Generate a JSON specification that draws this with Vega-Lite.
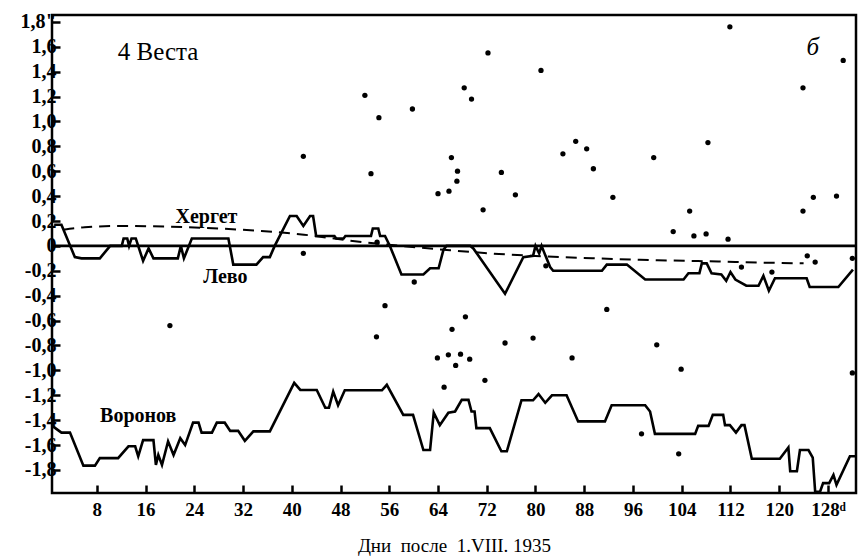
{
  "$schema": "https://vega.github.io/schema/vega-lite/v6.json",
  "width": 804,
  "height": 478,
  "autosize": {"type": "none"},
  "padding": {"left": 52, "top": 15, "right": 2, "bottom": 63},
  "background": "white",
  "config": {
    "view": {"stroke": "black", "strokeWidth": 2.5},
    "axis": {
      "domain": false,
      "grid": false,
      "tickColor": "black",
      "tickWidth": 2.5,
      "tickSize": -8,
      "labelColor": "black",
      "labelFont": "Liberation Serif",
      "labelFontWeight": "bold",
      "labelOverlap": false,
      "titleFont": "Liberation Serif",
      "titleColor": "black"
    }
  },
  "datasets": {
    "lines": [
      {"series": "Лево", "d": 1.0, "v": 0.17}, {"series": "Лево", "d": 2.2, "v": 0.17}, {"series": "Лево", "d": 4.4, "v": -0.09}, {"series": "Лево", "d": 5.5, "v": -0.1}, {"series": "Лево", "d": 8.5, "v": -0.1}, {"series": "Лево", "d": 10.2, "v": 0.0}, {"series": "Лево", "d": 12.1, "v": 0.0}, {"series": "Лево", "d": 12.4, "v": 0.06}, {"series": "Лево", "d": 13.0, "v": 0.06}, {"series": "Лево", "d": 13.3, "v": 0.0}, {"series": "Лево", "d": 13.7, "v": 0.06}, {"series": "Лево", "d": 14.4, "v": 0.06}, {"series": "Лево", "d": 15.6, "v": -0.12}, {"series": "Лево", "d": 16.5, "v": -0.02}, {"series": "Лево", "d": 17.3, "v": -0.1}, {"series": "Лево", "d": 21.3, "v": -0.1}, {"series": "Лево", "d": 21.8, "v": 0.0}, {"series": "Лево", "d": 22.3, "v": -0.1}, {"series": "Лево", "d": 23.6, "v": 0.06}, {"series": "Лево", "d": 29.6, "v": 0.06}, {"series": "Лево", "d": 30.4, "v": -0.15}, {"series": "Лево", "d": 34.2, "v": -0.15}, {"series": "Лево", "d": 35.3, "v": -0.09}, {"series": "Лево", "d": 36.4, "v": -0.09}, {"series": "Лево", "d": 37.2, "v": 0.0}, {"series": "Лево", "d": 39.7, "v": 0.24}, {"series": "Лево", "d": 40.8, "v": 0.24}, {"series": "Лево", "d": 41.9, "v": 0.16}, {"series": "Лево", "d": 43.0, "v": 0.24}, {"series": "Лево", "d": 43.5, "v": 0.24}, {"series": "Лево", "d": 44.0, "v": 0.08}, {"series": "Лево", "d": 47.0, "v": 0.08}, {"series": "Лево", "d": 47.3, "v": 0.06}, {"series": "Лево", "d": 48.5, "v": 0.06}, {"series": "Лево", "d": 48.8, "v": 0.08}, {"series": "Лево", "d": 53.0, "v": 0.08}, {"series": "Лево", "d": 53.3, "v": 0.14}, {"series": "Лево", "d": 54.2, "v": 0.14}, {"series": "Лево", "d": 54.5, "v": 0.08}, {"series": "Лево", "d": 55.3, "v": 0.08}, {"series": "Лево", "d": 56.1, "v": 0.0}, {"series": "Лево", "d": 58.0, "v": -0.23}, {"series": "Лево", "d": 61.6, "v": -0.23}, {"series": "Лево", "d": 62.7, "v": -0.18}, {"series": "Лево", "d": 64.1, "v": -0.18}, {"series": "Лево", "d": 64.9, "v": -0.03}, {"series": "Лево", "d": 65.4, "v": 0.0}, {"series": "Лево", "d": 69.3, "v": 0.0}, {"series": "Лево", "d": 69.8, "v": -0.02}, {"series": "Лево", "d": 75.0, "v": -0.385}, {"series": "Лево", "d": 78.0, "v": -0.09}, {"series": "Лево", "d": 79.6, "v": -0.08}, {"series": "Лево", "d": 80.0, "v": 0.0}, {"series": "Лево", "d": 80.6, "v": -0.06}, {"series": "Лево", "d": 81.0, "v": 0.0}, {"series": "Лево", "d": 81.4, "v": -0.05}, {"series": "Лево", "d": 82.4, "v": -0.17}, {"series": "Лево", "d": 82.9, "v": -0.2}, {"series": "Лево", "d": 90.9, "v": -0.2}, {"series": "Лево", "d": 91.7, "v": -0.15}, {"series": "Лево", "d": 95.0, "v": -0.15}, {"series": "Лево", "d": 98.0, "v": -0.27}, {"series": "Лево", "d": 104.3, "v": -0.27}, {"series": "Лево", "d": 105.1, "v": -0.22}, {"series": "Лево", "d": 106.9, "v": -0.22}, {"series": "Лево", "d": 107.3, "v": -0.14}, {"series": "Лево", "d": 108.1, "v": -0.14}, {"series": "Лево", "d": 108.9, "v": -0.22}, {"series": "Лево", "d": 110.5, "v": -0.23}, {"series": "Лево", "d": 111.3, "v": -0.28}, {"series": "Лево", "d": 112.0, "v": -0.21}, {"series": "Лево", "d": 112.8, "v": -0.27}, {"series": "Лево", "d": 114.6, "v": -0.32}, {"series": "Лево", "d": 116.6, "v": -0.32}, {"series": "Лево", "d": 117.4, "v": -0.24}, {"series": "Лево", "d": 118.3, "v": -0.36}, {"series": "Лево", "d": 119.3, "v": -0.26}, {"series": "Лево", "d": 124.5, "v": -0.26}, {"series": "Лево", "d": 125.0, "v": -0.33}, {"series": "Лево", "d": 129.7, "v": -0.33}, {"series": "Лево", "d": 132.1, "v": -0.19},
      {"series": "Воронов", "d": 0.8, "v": -1.45}, {"series": "Воронов", "d": 2.2, "v": -1.5}, {"series": "Воронов", "d": 3.6, "v": -1.5}, {"series": "Воронов", "d": 5.8, "v": -1.765}, {"series": "Воронов", "d": 7.7, "v": -1.765}, {"series": "Воронов", "d": 8.5, "v": -1.705}, {"series": "Воронов", "d": 11.5, "v": -1.705}, {"series": "Воронов", "d": 13.2, "v": -1.61}, {"series": "Воронов", "d": 14.3, "v": -1.61}, {"series": "Воронов", "d": 14.8, "v": -1.69}, {"series": "Воронов", "d": 15.6, "v": -1.56}, {"series": "Воронов", "d": 17.3, "v": -1.56}, {"series": "Воронов", "d": 17.7, "v": -1.76}, {"series": "Воронов", "d": 18.1, "v": -1.68}, {"series": "Воронов", "d": 18.7, "v": -1.76}, {"series": "Воронов", "d": 19.7, "v": -1.57}, {"series": "Воронов", "d": 20.6, "v": -1.68}, {"series": "Воронов", "d": 21.7, "v": -1.545}, {"series": "Воронов", "d": 22.5, "v": -1.6}, {"series": "Воронов", "d": 23.8, "v": -1.42}, {"series": "Воронов", "d": 24.7, "v": -1.42}, {"series": "Воронов", "d": 25.2, "v": -1.5}, {"series": "Воронов", "d": 26.9, "v": -1.5}, {"series": "Воронов", "d": 27.7, "v": -1.42}, {"series": "Воронов", "d": 29.0, "v": -1.42}, {"series": "Воронов", "d": 29.9, "v": -1.486}, {"series": "Воронов", "d": 31.2, "v": -1.486}, {"series": "Воронов", "d": 32.3, "v": -1.566}, {"series": "Воронов", "d": 33.7, "v": -1.49}, {"series": "Воронов", "d": 36.4, "v": -1.49}, {"series": "Воронов", "d": 40.4, "v": -1.1}, {"series": "Воронов", "d": 41.4, "v": -1.157}, {"series": "Воронов", "d": 44.1, "v": -1.157}, {"series": "Воронов", "d": 45.5, "v": -1.3}, {"series": "Воронов", "d": 46.1, "v": -1.3}, {"series": "Воронов", "d": 46.8, "v": -1.17}, {"series": "Воронов", "d": 47.6, "v": -1.28}, {"series": "Воронов", "d": 48.7, "v": -1.16}, {"series": "Воронов", "d": 54.8, "v": -1.16}, {"series": "Воронов", "d": 55.6, "v": -1.116}, {"series": "Воронов", "d": 58.3, "v": -1.357}, {"series": "Воронов", "d": 59.9, "v": -1.357}, {"series": "Воронов", "d": 61.6, "v": -1.64}, {"series": "Воронов", "d": 62.7, "v": -1.64}, {"series": "Воронов", "d": 63.3, "v": -1.34}, {"series": "Воронов", "d": 64.3, "v": -1.44}, {"series": "Воронов", "d": 65.7, "v": -1.34}, {"series": "Воронов", "d": 66.8, "v": -1.33}, {"series": "Воронов", "d": 67.9, "v": -1.237}, {"series": "Воронов", "d": 69.0, "v": -1.237}, {"series": "Воронов", "d": 69.5, "v": -1.33}, {"series": "Воронов", "d": 70.0, "v": -1.33}, {"series": "Воронов", "d": 70.3, "v": -1.464}, {"series": "Воронов", "d": 72.5, "v": -1.464}, {"series": "Воронов", "d": 74.4, "v": -1.65}, {"series": "Воронов", "d": 75.3, "v": -1.65}, {"series": "Воронов", "d": 77.7, "v": -1.24}, {"series": "Воронов", "d": 79.6, "v": -1.24}, {"series": "Воронов", "d": 80.5, "v": -1.19}, {"series": "Воронов", "d": 81.6, "v": -1.26}, {"series": "Воронов", "d": 82.7, "v": -1.2}, {"series": "Воронов", "d": 85.1, "v": -1.2}, {"series": "Воронов", "d": 87.0, "v": -1.41}, {"series": "Воронов", "d": 91.4, "v": -1.41}, {"series": "Воронов", "d": 92.5, "v": -1.28}, {"series": "Воронов", "d": 98.0, "v": -1.28}, {"series": "Воронов", "d": 98.8, "v": -1.33}, {"series": "Воронов", "d": 99.6, "v": -1.51}, {"series": "Воронов", "d": 106.2, "v": -1.51}, {"series": "Воронов", "d": 106.7, "v": -1.446}, {"series": "Воронов", "d": 108.4, "v": -1.446}, {"series": "Воронов", "d": 109.1, "v": -1.357}, {"series": "Воронов", "d": 110.8, "v": -1.357}, {"series": "Воронов", "d": 111.1, "v": -1.44}, {"series": "Воронов", "d": 111.9, "v": -1.44}, {"series": "Воронов", "d": 112.9, "v": -1.5}, {"series": "Воронов", "d": 113.8, "v": -1.44}, {"series": "Воронов", "d": 114.3, "v": -1.44}, {"series": "Воронов", "d": 115.5, "v": -1.71}, {"series": "Воронов", "d": 120.1, "v": -1.71}, {"series": "Воронов", "d": 121.5, "v": -1.62}, {"series": "Воронов", "d": 121.8, "v": -1.81}, {"series": "Воронов", "d": 122.9, "v": -1.81}, {"series": "Воронов", "d": 123.4, "v": -1.64}, {"series": "Воронов", "d": 124.8, "v": -1.64}, {"series": "Воронов", "d": 125.5, "v": -1.7}, {"series": "Воронов", "d": 125.9, "v": -1.975}, {"series": "Воронов", "d": 126.7, "v": -1.975}, {"series": "Воронов", "d": 127.2, "v": -1.906}, {"series": "Воронов", "d": 128.2, "v": -1.906}, {"series": "Воронов", "d": 128.9, "v": -1.84}, {"series": "Воронов", "d": 129.4, "v": -1.92}, {"series": "Воронов", "d": 131.6, "v": -1.69}, {"series": "Воронов", "d": 132.6, "v": -1.69}
    ],
    "herget": [
      {"d": 2.5, "v": 0.13}, {"d": 6, "v": 0.15}, {"d": 12, "v": 0.16}, {"d": 20, "v": 0.155}, {"d": 28, "v": 0.14}, {"d": 35, "v": 0.12}, {"d": 42, "v": 0.09}, {"d": 50, "v": 0.04}, {"d": 58, "v": 0.0}, {"d": 66, "v": -0.035}, {"d": 74, "v": -0.065}, {"d": 82, "v": -0.085}, {"d": 90, "v": -0.1}, {"d": 100, "v": -0.115}, {"d": 110, "v": -0.125}, {"d": 118, "v": -0.135}, {"d": 124, "v": -0.14}
    ],
    "points": [
      {"d": 41.9, "v": 0.72}, {"d": 52.0, "v": 1.21}, {"d": 54.3, "v": 1.03}, {"d": 59.8, "v": 1.10}, {"d": 68.3, "v": 1.27}, {"d": 69.5, "v": 1.18}, {"d": 72.2, "v": 1.55}, {"d": 80.9, "v": 1.41}, {"d": 66.2, "v": 0.71},
      {"d": 111.9, "v": 1.76}, {"d": 130.5, "v": 1.49}, {"d": 123.9, "v": 1.27}, {"d": 84.5, "v": 0.74}, {"d": 86.6, "v": 0.84}, {"d": 88.4, "v": 0.78}, {"d": 99.4, "v": 0.71}, {"d": 108.3, "v": 0.83},
      {"d": 53.0, "v": 0.58}, {"d": 67.2, "v": 0.60}, {"d": 67.1, "v": 0.52}, {"d": 64.0, "v": 0.42}, {"d": 65.8, "v": 0.44}, {"d": 74.4, "v": 0.59}, {"d": 76.7, "v": 0.41}, {"d": 71.4, "v": 0.29},
      {"d": 41.9, "v": -0.06}, {"d": 54.0, "v": 0.03}, {"d": 60.1, "v": -0.29}, {"d": 55.3, "v": -0.48}, {"d": 81.7, "v": -0.16},
      {"d": 89.5, "v": 0.62}, {"d": 92.7, "v": 0.39}, {"d": 105.3, "v": 0.28}, {"d": 102.6, "v": 0.115}, {"d": 106.0, "v": 0.08}, {"d": 108.0, "v": 0.096}, {"d": 111.6, "v": 0.054}, {"d": 123.9, "v": 0.28}, {"d": 125.6, "v": 0.39}, {"d": 129.4, "v": 0.40}, {"d": 124.6, "v": -0.08}, {"d": 125.9, "v": -0.13}, {"d": 113.8, "v": -0.17}, {"d": 118.8, "v": -0.21}, {"d": 132.0, "v": -0.10}, {"d": 91.7, "v": -0.51},
      {"d": 53.9, "v": -0.73}, {"d": 68.5, "v": -0.57}, {"d": 66.3, "v": -0.67}, {"d": 75.0, "v": -0.78}, {"d": 79.6, "v": -0.74}, {"d": 63.9, "v": -0.90}, {"d": 65.7, "v": -0.875}, {"d": 67.7, "v": -0.87}, {"d": 69.2, "v": -0.91}, {"d": 66.9, "v": -0.96},
      {"d": 65.0, "v": -1.135}, {"d": 71.7, "v": -1.08}, {"d": 86.0, "v": -0.90}, {"d": 99.9, "v": -0.795}, {"d": 103.9, "v": -0.99}, {"d": 97.4, "v": -1.51}, {"d": 103.5, "v": -1.67}, {"d": 132.0, "v": -1.02}, {"d": 20.0, "v": -0.64}
    ],
    "zero": [{"v": 0}],
    "bigLabels": [
      {"label": "4 Веста", "d": 18.05, "v": 1.56}
    ],
    "letter": [
      {"label": "б", "d": 125.5, "v": 1.6}
    ],
    "seriesLabels": [
      {"label": "Хергет", "d": 26.0, "v": 0.235},
      {"label": "Лево", "d": 29.1, "v": -0.25},
      {"label": "Воронов", "d": 14.8, "v": -1.37}
    ]
  },
  "layer": [
    {
      "data": {"name": "lines"},
      "mark": {"type": "line", "color": "black", "strokeWidth": 2.6, "strokeJoin": "miter", "interpolate": "linear"},
      "encoding": {
        "x": {
          "field": "d", "type": "quantitative",
          "scale": {"domain": [0.65, 132.6], "nice": false, "zero": false},
          "axis": {
            "values": [8, 16, 24, 32, 40, 48, 56, 64, 72, 80, 88, 96, 104, 112, 120, 128],
            "tickCount": 20,
            "labelExpr": "datum.value == 128 ? '128ᵈ' : datum.label",
            "labelFontSize": 19,
            "labelPadding": 15,
            "labelOverlap": false,
            "title": "Дни\u00a0 после\u00a0 1.VIII. 1935",
            "titleFontSize": 19,
            "titleFontWeight": "normal",
            "titlePadding": 17
          }
        },
        "y": {
          "field": "v", "type": "quantitative",
          "scale": {"domain": [-1.985, 1.855], "nice": false, "zero": false},
          "axis": {
            "values": [-1.8, -1.6, -1.4, -1.2, -1.0, -0.8, -0.6, -0.4, -0.2, 0, 0.2, 0.4, 0.6, 0.8, 1.0, 1.2, 1.4, 1.6, 1.8],
            "tickCount": 25,
            "labelExpr": "abs(datum.value) < 0.01 ? '0' : (datum.value < 0 ? '-' : '') + replace(format(abs(datum.value), '.1f'), '.', ',') + (datum.value > 1.75 ? '\"' : '')",
            "labelFontSize": 20,
            "labelPadding": 4,
            "labelOverlap": false,
            "title": null
          }
        },
        "detail": {"field": "series", "type": "nominal"},
        "order": {"field": "d", "type": "quantitative"}
      }
    },
    {
      "data": {"name": "zero"},
      "mark": {"type": "rule", "color": "black", "strokeWidth": 2.6},
      "encoding": {
        "y": {"field": "v", "type": "quantitative", "scale": {"domain": [-1.985, 1.855], "nice": false, "zero": false}}
      }
    },
    {
      "data": {"name": "herget"},
      "mark": {"type": "line", "color": "black", "strokeWidth": 2, "strokeDash": [11, 7], "interpolate": "monotone"},
      "encoding": {
        "x": {"field": "d", "type": "quantitative", "scale": {"domain": [0.65, 132.6], "nice": false, "zero": false}},
        "y": {"field": "v", "type": "quantitative", "scale": {"domain": [-1.985, 1.855], "nice": false, "zero": false}}
      }
    },
    {
      "data": {"name": "points"},
      "mark": {"type": "circle", "color": "black", "opacity": 1, "size": 28},
      "encoding": {
        "x": {"field": "d", "type": "quantitative"},
        "y": {"field": "v", "type": "quantitative"}
      }
    },
    {
      "data": {"name": "bigLabels"},
      "mark": {"type": "text", "font": "Liberation Serif", "fontSize": 25, "color": "black", "align": "center", "baseline": "middle"},
      "encoding": {
        "x": {"field": "d", "type": "quantitative"},
        "y": {"field": "v", "type": "quantitative"},
        "text": {"field": "label"}
      }
    },
    {
      "data": {"name": "letter"},
      "mark": {"type": "text", "font": "Liberation Serif", "fontSize": 25, "fontStyle": "italic", "color": "black", "align": "center", "baseline": "middle"},
      "encoding": {
        "x": {"field": "d", "type": "quantitative"},
        "y": {"field": "v", "type": "quantitative"},
        "text": {"field": "label"}
      }
    },
    {
      "data": {"name": "seriesLabels"},
      "mark": {"type": "text", "font": "Liberation Serif", "fontSize": 20, "fontWeight": "bold", "color": "black", "align": "center", "baseline": "middle"},
      "encoding": {
        "x": {"field": "d", "type": "quantitative"},
        "y": {"field": "v", "type": "quantitative"},
        "text": {"field": "label"}
      }
    }
  ]
}
